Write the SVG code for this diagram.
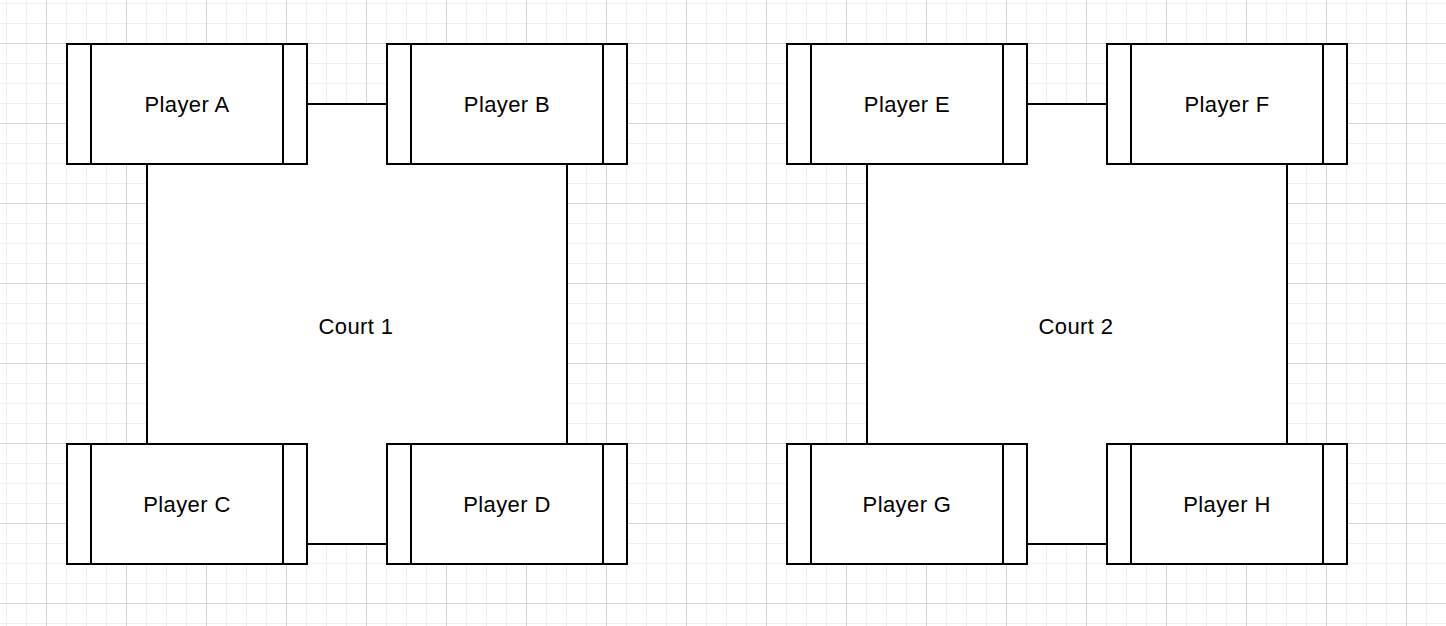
<svg xmlns="http://www.w3.org/2000/svg" width="1446" height="626" viewBox="0 0 1446 626">
<style>
.box{fill:#fff;stroke:#000;stroke-width:2}
.div{stroke:#000;stroke-width:2}
.court{fill:#fff;stroke:none}
.conn{stroke:#000;stroke-width:2;fill:none}
.lbl{font-family:"Liberation Sans",Arial,Helvetica,sans-serif;font-size:22px;letter-spacing:0.4px;fill:#000;text-anchor:middle}
</style>
<defs>
<pattern id="grid" patternUnits="userSpaceOnUse" x="6" y="3" width="80" height="80">
<g stroke="#efefef" stroke-width="1">
<line x1="0.5" y1="0" x2="0.5" y2="80"/><line x1="20.5" y1="0" x2="20.5" y2="80"/><line x1="60.5" y1="0" x2="60.5" y2="80"/>
<line x1="0" y1="0.5" x2="80" y2="0.5"/><line x1="0" y1="20.5" x2="80" y2="20.5"/><line x1="0" y1="60.5" x2="80" y2="60.5"/>
</g>
<g stroke="#d3d3d3" stroke-width="1">
<line x1="40.5" y1="0" x2="40.5" y2="80"/><line x1="0" y1="40.5" x2="80" y2="40.5"/>
</g>
</pattern>
</defs>
<rect width="1446" height="626" fill="#fff"/>
<rect width="1446" height="626" fill="url(#grid)"/>

<g id="court1"><rect class="court" x="147" y="104" width="420" height="440"/><text class="lbl" x="356" y="334">Court 1</text></g>
<g id="court2"><rect class="court" x="867" y="104" width="420" height="440"/><text class="lbl" x="1076" y="334">Court 2</text></g>

<g id="connectors">
<line class="conn" x1="307" y1="104" x2="387" y2="104"/>
<line class="conn" x1="147" y1="164" x2="147" y2="444"/>
<line class="conn" x1="567" y1="164" x2="567" y2="444"/>
<line class="conn" x1="307" y1="544" x2="387" y2="544"/>
<line class="conn" x1="1027" y1="104" x2="1107" y2="104"/>
<line class="conn" x1="867" y1="164" x2="867" y2="444"/>
<line class="conn" x1="1287" y1="164" x2="1287" y2="444"/>
<line class="conn" x1="1027" y1="544" x2="1107" y2="544"/>
</g>

<g id="playerA"><rect class="box" x="67" y="44" width="240" height="120"/><line class="div" x1="91" y1="44" x2="91" y2="164"/><line class="div" x1="283" y1="44" x2="283" y2="164"/><text class="lbl" x="187" y="112">Player A</text></g>
<g id="playerB"><rect class="box" x="387" y="44" width="240" height="120"/><line class="div" x1="411" y1="44" x2="411" y2="164"/><line class="div" x1="603" y1="44" x2="603" y2="164"/><text class="lbl" x="507" y="112">Player B</text></g>
<g id="playerC"><rect class="box" x="67" y="444" width="240" height="120"/><line class="div" x1="91" y1="444" x2="91" y2="564"/><line class="div" x1="283" y1="444" x2="283" y2="564"/><text class="lbl" x="187" y="512">Player C</text></g>
<g id="playerD"><rect class="box" x="387" y="444" width="240" height="120"/><line class="div" x1="411" y1="444" x2="411" y2="564"/><line class="div" x1="603" y1="444" x2="603" y2="564"/><text class="lbl" x="507" y="512">Player D</text></g>
<g id="playerE"><rect class="box" x="787" y="44" width="240" height="120"/><line class="div" x1="811" y1="44" x2="811" y2="164"/><line class="div" x1="1003" y1="44" x2="1003" y2="164"/><text class="lbl" x="907" y="112">Player E</text></g>
<g id="playerF"><rect class="box" x="1107" y="44" width="240" height="120"/><line class="div" x1="1131" y1="44" x2="1131" y2="164"/><line class="div" x1="1323" y1="44" x2="1323" y2="164"/><text class="lbl" x="1227" y="112">Player F</text></g>
<g id="playerG"><rect class="box" x="787" y="444" width="240" height="120"/><line class="div" x1="811" y1="444" x2="811" y2="564"/><line class="div" x1="1003" y1="444" x2="1003" y2="564"/><text class="lbl" x="907" y="512">Player G</text></g>
<g id="playerH"><rect class="box" x="1107" y="444" width="240" height="120"/><line class="div" x1="1131" y1="444" x2="1131" y2="564"/><line class="div" x1="1323" y1="444" x2="1323" y2="564"/><text class="lbl" x="1227" y="512">Player H</text></g>
</svg>
